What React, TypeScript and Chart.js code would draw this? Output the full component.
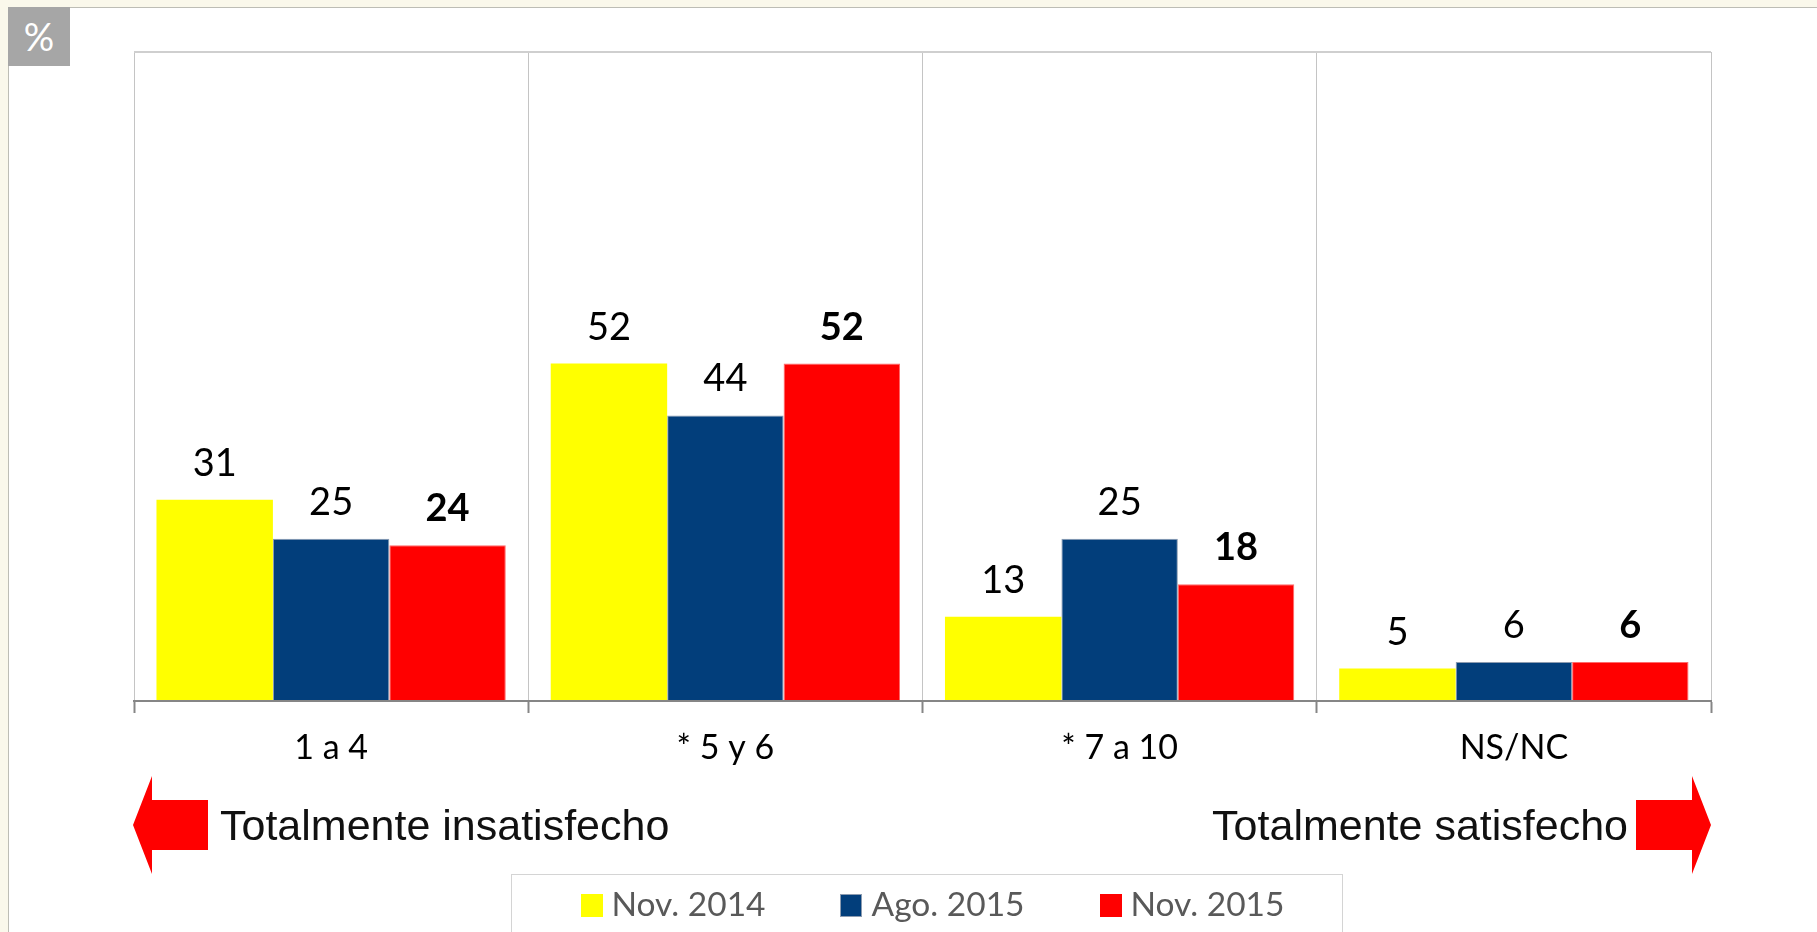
import React, { useEffect, useRef } from 'react';
import { Chart, registerables } from 'chart.js';

Chart.register(...registerables);

// ---------- data ----------
const categories = ['1 a 4', '* 5 y 6', '* 7 a 10', 'NS/NC'];
const seriesNames = ['Nov. 2014', 'Ago. 2015', 'Nov. 2015'];
const nov2014 = [31, 52, 13, 5];
const ago2015 = [25, 44, 25, 6];
const nov2015 = [24, 52, 18, 6];
const seriesColors = ['#FFFF00', '#023E7B', '#FF0000'];
const seriesBorders = ['#FFFF00', '#8C9BB0', '#FF6A6A'];
const boldSeries = [false, false, true];
const leftCaption = 'Totalmente insatisfecho';
const rightCaption = 'Totalmente satisfecho';
const unitLabel = '%';
const yMax = 100;

const W = 1817;
const H = 932;

const valueLabels = {
  id: 'valueLabels',
  afterDatasetsDraw(chart: any) {
    const ctx = chart.ctx;
    ctx.save();
    ctx.textAlign = 'center';
    ctx.textBaseline = 'alphabetic';
    ctx.fillStyle = '#000000';
    chart.data.datasets.forEach((ds: any, i: number) => {
      const meta = chart.getDatasetMeta(i);
      ctx.font = `${boldSeries[i] ? 'bold ' : ''}38px Lato`;
      meta.data.forEach((bar: any, j: number) => {
        ctx.fillText(String(ds.data[j]), bar.x, bar.y - 24);
      });
    });
    ctx.restore();
  },
};

const decor = {
  id: 'decor',
  afterDraw(chart: any) {
    const ctx = chart.ctx;
    const ca = chart.chartArea;
    ctx.save();

    // arrows
    const cy = ca.bottom + 124;
    const headLen = 19;
    const headHalf = 49;
    const shaftLen = 56;
    const shaftHalf = 25;
    ctx.fillStyle = '#FF0000';
    // left arrow
    const lt = ca.left - 1;
    ctx.beginPath();
    ctx.moveTo(lt, cy);
    ctx.lineTo(lt + headLen, cy - headHalf);
    ctx.lineTo(lt + headLen, cy - shaftHalf);
    ctx.lineTo(lt + headLen + shaftLen, cy - shaftHalf);
    ctx.lineTo(lt + headLen + shaftLen, cy + shaftHalf);
    ctx.lineTo(lt + headLen, cy + shaftHalf);
    ctx.lineTo(lt + headLen, cy + headHalf);
    ctx.closePath();
    ctx.fill();
    // right arrow
    const rt = ca.right;
    ctx.beginPath();
    ctx.moveTo(rt, cy);
    ctx.lineTo(rt - headLen, cy - headHalf);
    ctx.lineTo(rt - headLen, cy - shaftHalf);
    ctx.lineTo(rt - headLen - shaftLen, cy - shaftHalf);
    ctx.lineTo(rt - headLen - shaftLen, cy + shaftHalf);
    ctx.lineTo(rt - headLen, cy + shaftHalf);
    ctx.lineTo(rt - headLen, cy + headHalf);
    ctx.closePath();
    ctx.fill();

    // captions
    ctx.fillStyle = '#111111';
    ctx.font = '43px "Liberation Sans", Arial, sans-serif';
    ctx.textBaseline = 'alphabetic';
    ctx.textAlign = 'left';
    ctx.fillText(leftCaption, lt + headLen + shaftLen + 12, cy + 15);
    ctx.textAlign = 'right';
    ctx.fillText(rightCaption, rt - headLen - shaftLen - 8, cy + 15);

    // legend box
    const cx = (ca.left + ca.right) / 2 + 4;
    const boxW = 831;
    const boxTop = ca.bottom + 173;
    ctx.strokeStyle = '#D4D4D4';
    ctx.lineWidth = 1;
    ctx.strokeRect(Math.round(cx - boxW / 2) + 0.5, boxTop + 0.5, boxW, 120);

    ctx.font = '33.5px Lato';
    ctx.textAlign = 'left';
    ctx.textBaseline = 'alphabetic';
    const sq = 22;
    const gapSq = 9;
    const itemGap = 75;
    const widths = seriesNames.map((n) => ctx.measureText(n).width);
    const total = widths.reduce((a, w) => a + sq + gapSq + w, 0) + itemGap * (seriesNames.length - 1);
    let x = cx + 6 - total / 2;
    const base = boxTop + 42;
    seriesNames.forEach((name, i) => {
      ctx.fillStyle = seriesColors[i];
      ctx.fillRect(Math.round(x), base - 22, sq, 23);
      if (i === 1) {
        ctx.strokeStyle = '#8C9BB0';
        ctx.strokeRect(Math.round(x) + 0.5, base - 21.5, sq - 1, 22);
      }
      ctx.fillStyle = '#595959';
      ctx.fillText(name, x + sq + gapSq, base);
      x += sq + gapSq + widths[i] + itemGap;
    });

    ctx.restore();
  },
};

export default function App() {
  const ref = useRef<HTMLCanvasElement | null>(null);

  useEffect(() => {
    let chart: Chart | null = null;
    let cancelled = false;
    const make = () => {
      if (cancelled || !ref.current) return;
      const datasets = [nov2014, ago2015, nov2015].map((d, i) => ({
        label: seriesNames[i],
        data: d,
        backgroundColor: seriesColors[i],
        borderColor: seriesBorders[i],
        borderWidth: i === 0 ? 0 : 1,
        categoryPercentage: 0.886,
        barPercentage: 1.0,
      }));
      chart = new Chart(ref.current, {
        type: 'bar',
        data: { labels: categories, datasets },
        options: {
          responsive: false,
          animation: false,
          devicePixelRatio: 1,
          layout: { padding: { left: 134, top: 52, right: W - 1711, bottom: 0 } },
          plugins: {
            legend: { display: false },
            tooltip: { enabled: false },
          },
          scales: {
            x: {
              afterFit: (scale: any) => {
                scale.height = H - 701;
              },
              grid: {
                offset: true,
                color: '#C4C4C4',
                lineWidth: 1,
                tickLength: 12,
                tickColor: '#868686',
                tickWidth: 2,
              },
              border: { display: true, color: '#868686', width: 2 },
              ticks: {
                color: '#000000',
                font: { family: 'Lato', size: 34 },
                padding: 15,
                maxRotation: 0,
              },
            },
            y: {
              min: 0,
              max: yMax,
              ticks: { display: false, stepSize: yMax },
              grid: {
                drawTicks: false,
                color: (c: any) => (c.tick && c.tick.value === yMax ? '#CFCFCF' : 'rgba(0,0,0,0)'),
                lineWidth: 2,
              },
              border: { display: false },
            },
          },
        },
        plugins: [valueLabels, decor],
      });
    };
    const fonts = (document as any).fonts;
    if (fonts && fonts.load) {
      Promise.all([
        fonts.load('36px Lato'),
        fonts.load('bold 36px Lato'),
        fonts.load('43px "Liberation Sans"'),
      ]).then(make, make);
    } else {
      make();
    }
    return () => {
      cancelled = true;
      if (chart) chart.destroy();
    };
  }, []);

  return (
    <div style={{ position: 'fixed', left: 0, top: 0, width: W, height: H, background: '#FAF8EB', overflow: 'hidden' }}>
      <div
        style={{
          position: 'absolute',
          left: 8,
          top: 7,
          right: 0,
          bottom: 0,
          background: '#FFFFFF',
          borderTop: '1px solid #BDBDB5',
          borderLeft: '1px solid #BDBDB5',
        }}
      />
      <div
        style={{
          position: 'absolute',
          left: 8,
          top: 7,
          width: 62,
          height: 59,
          background: '#A6A6A6',
          color: '#FFFFFF',
          fontFamily: 'Lato, sans-serif',
          fontSize: 38,
          lineHeight: '59px',
          textAlign: 'center',
        }}
      >
        {unitLabel}
      </div>
      <canvas ref={ref} width={W} height={H} style={{ position: 'absolute', left: 0, top: 0, width: W, height: H }} />
    </div>
  );
}
